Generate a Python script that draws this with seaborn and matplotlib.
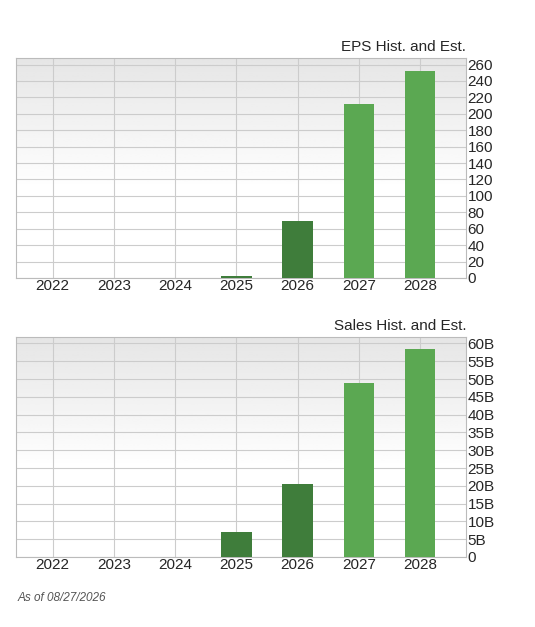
import numpy as np
import pandas as pd
import matplotlib.pyplot as plt
import seaborn as sns

years = ["2022", "2023", "2024", "2025", "2026", "2027", "2028"]
eps_values = [0, 0, 0, 2, 70, 212, 252]
sales_values = [0, 0, 0, 7.0, 20.5, 49.0, 58.5]  # billions
is_estimate = [False, False, False, False, False, True, True]

DARK = "#3f7d3b"
LIGHT = "#5ba852"

sns.set_theme(style="white")
plt.rcParams["font.family"] = ["Liberation Sans", "DejaVu Sans"]

fig = plt.figure(figsize=(5.35, 6.27), dpi=100)
ax1 = fig.add_axes([16 / 535, 1 - 278 / 627, 450 / 535, 220 / 627])
ax2 = fig.add_axes([16 / 535, 1 - 557 / 627, 450 / 535, 220 / 627])

XMIN, XMAX = -0.6, 6.75


def draw_panel(ax, values, ymax, ticks, ticklabels, title):
    df = pd.DataFrame({"year": years, "value": values,
                       "kind": ["Est" if e else "Hist" for e in is_estimate]})
    # gradient background, grey at top fading to white
    grad = np.concatenate([np.linspace(0.90, 1.0, 60), np.ones(40)]).reshape(-1, 1)
    ax.imshow(grad, extent=[XMIN, XMAX, 0, ymax], aspect="auto", cmap="gray",
              vmin=0, vmax=1, origin="upper", zorder=0)
    sns.barplot(data=df, x="year", y="value", hue="kind",
                palette={"Hist": DARK, "Est": LIGHT}, width=0.5,
                dodge=False, legend=False, ax=ax, zorder=3, saturation=1,
                linewidth=0)
    ax.set_xlim(XMIN, XMAX)
    ax.set_ylim(0, ymax)
    for x in range(len(years)):
        ax.axvline(x, color="#cccccc", lw=0.8, zorder=1)
    for t in ticks:
        ax.axhline(t, color="#cccccc", lw=0.8, zorder=1)
    ax.yaxis.tick_right()
    ax.set_yticks(ticks)
    ax.set_yticklabels(ticklabels, fontsize=11)
    ax.set_xticks(range(len(years)))
    ax.set_xticklabels(years, fontsize=11)
    ax.tick_params(axis="both", length=0, pad=1)
    ax.set_xlabel("")
    ax.set_ylabel("")
    for s in ax.spines.values():
        s.set_color("#bbbbbb")
        s.set_linewidth(0.8)
    ax.set_title(title, loc="right", fontsize=11, pad=5)


eps_ticks = list(range(0, 261, 20))
draw_panel(ax1, eps_values, 268, eps_ticks, [str(t) for t in eps_ticks],
           "EPS Hist. and Est.")
sales_ticks = list(range(0, 61, 5))
draw_panel(ax2, sales_values, 61.8, sales_ticks,
           ["0" if t == 0 else f"{t}B" for t in sales_ticks],
           "Sales Hist. and Est.")

fig.text(18 / 535, 1 - 598 / 627, "As of 08/27/2026", fontsize=8.5,
         style="italic", color="#555555", va="center")

fig.savefig("out.png", dpi=100)
